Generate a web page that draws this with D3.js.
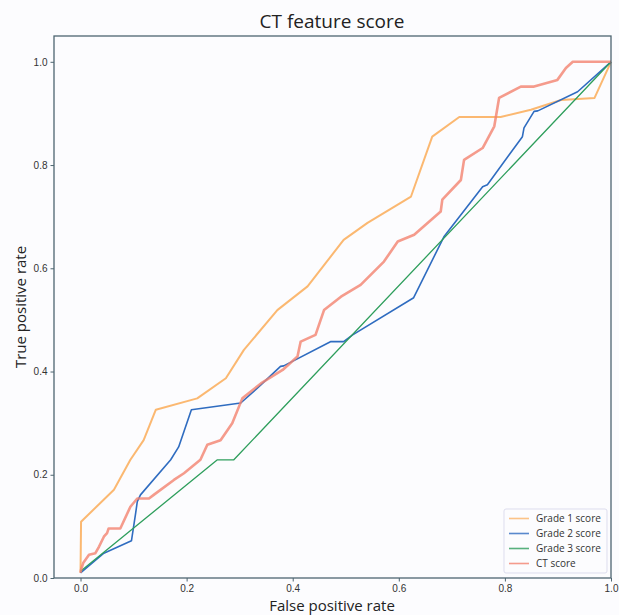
<!DOCTYPE html>
<html lang="en">
<head>
<meta charset="UTF-8">
<title>CT feature score</title>
<style>
  * { margin: 0; padding: 0; }
  body { background: #fcfcfe; font-family: "Open Sans", "Noto Sans", sans-serif; }
  svg { display: block; }
  .tick text { fill: #333; font-size: 10px; }
</style>
<script src="https://cdn.jsdelivr.net/npm/d3@7"></script>
</head>
<body>
<div id="chart"></div>
<script>
var w = 619, h = 615;
var margin = {left: 54, right: 8, top: 36, bottom: 37};

var xTicks = [0.0, 0.2, 0.4, 0.6, 0.8, 1.0];
var yTicks = [0.0, 0.2, 0.4, 0.6, 0.8, 1.0];
var seriesNames = ['Grade 1 score', 'Grade 2 score', 'Grade 3 score', 'CT score'];
var seriesColors = ['#fbb469', '#2f6cc0', '#2e9e5c', '#f2826f'];

// ROC points [fpr, tpr]
var grade1 = [[0,0.01],[0.001,0.109],[0.063,0.171],[0.094,0.229],[0.119,0.267],[0.142,0.326],
  [0.22,0.348],[0.274,0.387],[0.308,0.442],[0.371,0.519],[0.428,0.565],[0.496,0.655],
  [0.541,0.688],[0.623,0.739],[0.663,0.855],[0.714,0.893],[0.792,0.893],[0.849,0.907],
  [0.906,0.926],[0.969,0.93],[1,1]];
var grade2 = [[0,0.01],[0.044,0.048],[0.096,0.072],[0.104,0.126],[0.107,0.148],[0.113,0.161],
  [0.17,0.229],[0.185,0.254],[0.209,0.326],[0.302,0.339],[0.34,0.374],[0.377,0.41],
  [0.383,0.411],[0.472,0.458],[0.496,0.458],[0.513,0.471],[0.628,0.543],[0.685,0.661],
  [0.758,0.758],[0.767,0.762],[0.833,0.855],[0.836,0.872],[0.855,0.904],[0.862,0.905],
  [0.937,0.942],[1,1]];
var grade3 = [[0,0.013],[0.258,0.229],[0.289,0.229],[1,1]];
var ctScore = [[0,0.01],[0.001,0.016],[0.005,0.029],[0.016,0.045],[0.028,0.048],[0.035,0.061],
  [0.044,0.08],[0.05,0.087],[0.053,0.096],[0.075,0.096],[0.094,0.138],[0.107,0.154],
  [0.129,0.154],[0.138,0.161],[0.176,0.19],[0.195,0.203],[0.226,0.229],[0.239,0.258],
  [0.264,0.267],[0.286,0.3],[0.305,0.348],[0.34,0.377],[0.381,0.403],[0.409,0.429],
  [0.415,0.458],[0.443,0.471],[0.459,0.519],[0.491,0.545],[0.528,0.568],[0.572,0.613],
  [0.598,0.652],[0.629,0.665],[0.679,0.71],[0.682,0.733],[0.717,0.771],[0.723,0.81],
  [0.758,0.833],[0.78,0.875],[0.789,0.93],[0.83,0.952],[0.855,0.952],[0.899,0.965],
  [0.915,0.988],[0.928,1.0],[1,1]];
var allSeries = [grade1, grade2, grade3, ctScore];
var widths = [2, 1.6, 1.3, 2.6];
var opac = [0.95, 1, 1, 0.8];

var svg = d3.select('#chart').append('svg').attr('width', w).attr('height', h);

var x = d3.scaleLinear().domain([-0.05, 1.0]).range([margin.left, w - margin.right]);
var y = d3.scaleLinear().domain([0, 1.05]).range([h - margin.bottom, margin.top]);

// title + axis labels
svg.append('text').attr('x', 332).attr('y', 28).attr('text-anchor', 'middle')
  .style('font-size', '19px').style('fill', '#222').text('CT feature score');
svg.append('text').attr('x', 332).attr('y', 611).attr('text-anchor', 'middle')
  .style('font-size', '15px').style('fill', '#222').text('False positive rate');
svg.append('text').attr('transform', 'translate(26,' + 307 + ') rotate(-90)')
  .attr('text-anchor', 'middle').style('font-size', '15px').style('fill', '#222')
  .text('True positive rate');

// axes
var xAxis = d3.axisBottom(x).tickValues(xTicks).tickFormat(d3.format('.1f')).tickSize(3.5).tickPadding(3);
var yAxis = d3.axisLeft(y).tickValues(yTicks).tickFormat(d3.format('.1f')).tickSize(3.5).tickPadding(3);
svg.append('g').attr('transform', 'translate(0,' + (h - margin.bottom) + ')').call(xAxis)
  .call(g => g.select('.domain').remove());
svg.append('g').attr('transform', 'translate(' + margin.left + ',0)').call(yAxis)
  .call(g => g.select('.domain').remove());
svg.selectAll('.tick line').attr('stroke', '#4d6570');

// lines
var line = d3.line().x(d => x(d[0])).y(d => y(d[1]));
svg.append('g').selectAll('path').data(allSeries).enter().append('path')
  .attr('d', line).attr('fill', 'none')
  .attr('stroke', (d, i) => seriesColors[i])
  .attr('stroke-width', (d, i) => widths[i])
  .attr('stroke-opacity', (d, i) => opac[i])
  .attr('stroke-linejoin', 'round');

// frame
svg.append('rect').attr('x', margin.left).attr('y', margin.top)
  .attr('width', w - margin.left - margin.right).attr('height', h - margin.top - margin.bottom)
  .attr('fill', 'none').attr('stroke', '#4d6570').attr('stroke-width', 1.3);

// legend
var legend = svg.append('g').attr('transform', 'translate(504,509)');
legend.append('rect').attr('width', 103).attr('height', 64).attr('rx', 2)
  .attr('fill', '#fcfcfe').attr('stroke', '#dde').attr('stroke-width', 1);
seriesNames.forEach(function (name, i) {
  var yy = 9.5 + i * 15;
  legend.append('line').attr('x1', 5).attr('x2', 25).attr('y1', yy).attr('y2', yy)
    .attr('stroke', seriesColors[i]).attr('stroke-width', 1.6).attr('stroke-opacity', 0.8);
  legend.append('text').attr('x', 32).attr('y', yy + 3.5)
    .style('font-size', '10px').style('fill', '#333').text(name);
});
</script>
</body>
</html>
